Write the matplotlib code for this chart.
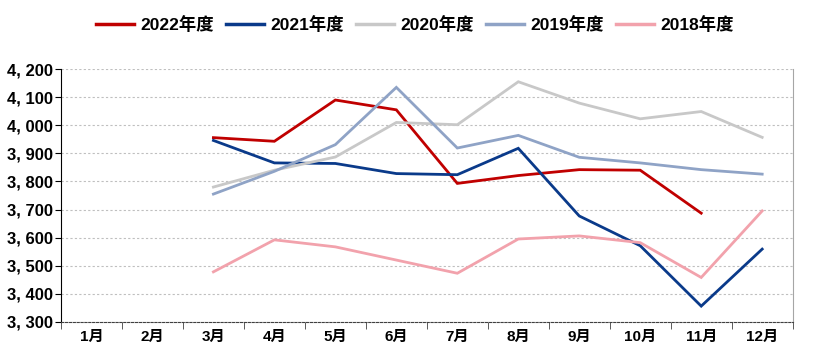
import matplotlib.pyplot as plt
from matplotlib.ticker import FuncFormatter, FixedLocator

plt.rcParams['font.family'] = ['Liberation Sans', 'Noto Sans CJK SC', 'DejaVu Sans']

months = ['1月', '2月', '3月', '4月', '5月', '6月', '7月', '8月', '9月', '10月', '11月', '12月']
nan = float('nan')

y2022 = [nan, nan, 3956, 3943, 4090, 4055, 3793, 3821, 3842, 3840, 3687, nan]
y2021 = [nan, nan, 3946, 3866, 3864, 3828, 3824, 3918, 3677, 3571, 3356, 3559]
y2020 = [nan, nan, 3780, 3840, 3887, 4010, 4002, 4155, 4079, 4023, 4049, 3957]
y2019 = [nan, nan, 3755, 3836, 3931, 4135, 3919, 3964, 3886, 3866, 3842, 3826]
y2018 = [nan, nan, 3478, 3592, 3567, 3520, 3473, 3595, 3606, 3582, 3458, 3695]

series = [
    ('2022年度', y2022, '#C00000'),
    ('2021年度', y2021, '#0A3A8A'),
    ('2020年度', y2020, '#C8C8C8'),
    ('2019年度', y2019, '#8FA3C6'),
    ('2018年度', y2018, '#F2A2AC'),
]

fig = plt.figure(figsize=(8.13, 3.6), dpi=100)
ax = fig.add_axes([0.075, 0.106, 0.9, 0.702])

x = list(range(len(months)))
for name, vals, col in series:
    ax.plot(x, vals, color=col, lw=2.0, label=name, solid_joinstyle='miter')

ax.set_xlim(-0.5, 11.5)
ax.set_ylim(3300, 4200)
ax.set_yticks(range(3300, 4201, 100))
ax.yaxis.set_major_formatter(FuncFormatter(lambda v, p: '{:,.0f}'.format(v).replace(',', ', ')))
ax.grid(axis='y', color='#BFBFBF', ls=(0, (2, 2)), lw=0.8)
ax.set_axisbelow(True)

# month labels centered, ticks at category borders
ax.set_xticks(x)
ax.set_xticklabels(months, fontsize=11, fontweight='bold')
ax.tick_params(axis='x', which='major', length=0, pad=6)
ax.xaxis.set_minor_locator(FixedLocator([i + 0.5 for i in range(-1, 12)]))
ax.tick_params(axis='x', which='minor', length=5, color='#404040')
ax.tick_params(axis='y', length=4, labelsize=12, pad=2)
for lbl in ax.get_yticklabels():
    lbl.set_fontweight('bold')

ax.spines['top'].set_visible(False)
ax.spines['left'].set_color('black')
ax.spines['bottom'].set_color('#404040')
ax.spines['bottom'].set_linestyle((0, (2, 1.5)))
ax.spines['right'].set_color('#A6A6A6')

leg = fig.legend(loc='upper center', bbox_to_anchor=(0.51, 1.0), ncol=5, frameon=False,
                 handlelength=2.2, columnspacing=0.7, handletextpad=0.35,
                 prop={'weight': 'bold', 'size': 12.5})
for h in leg.get_lines():
    h.set_linewidth(2.5)

fig.savefig('out.png', dpi=100)
